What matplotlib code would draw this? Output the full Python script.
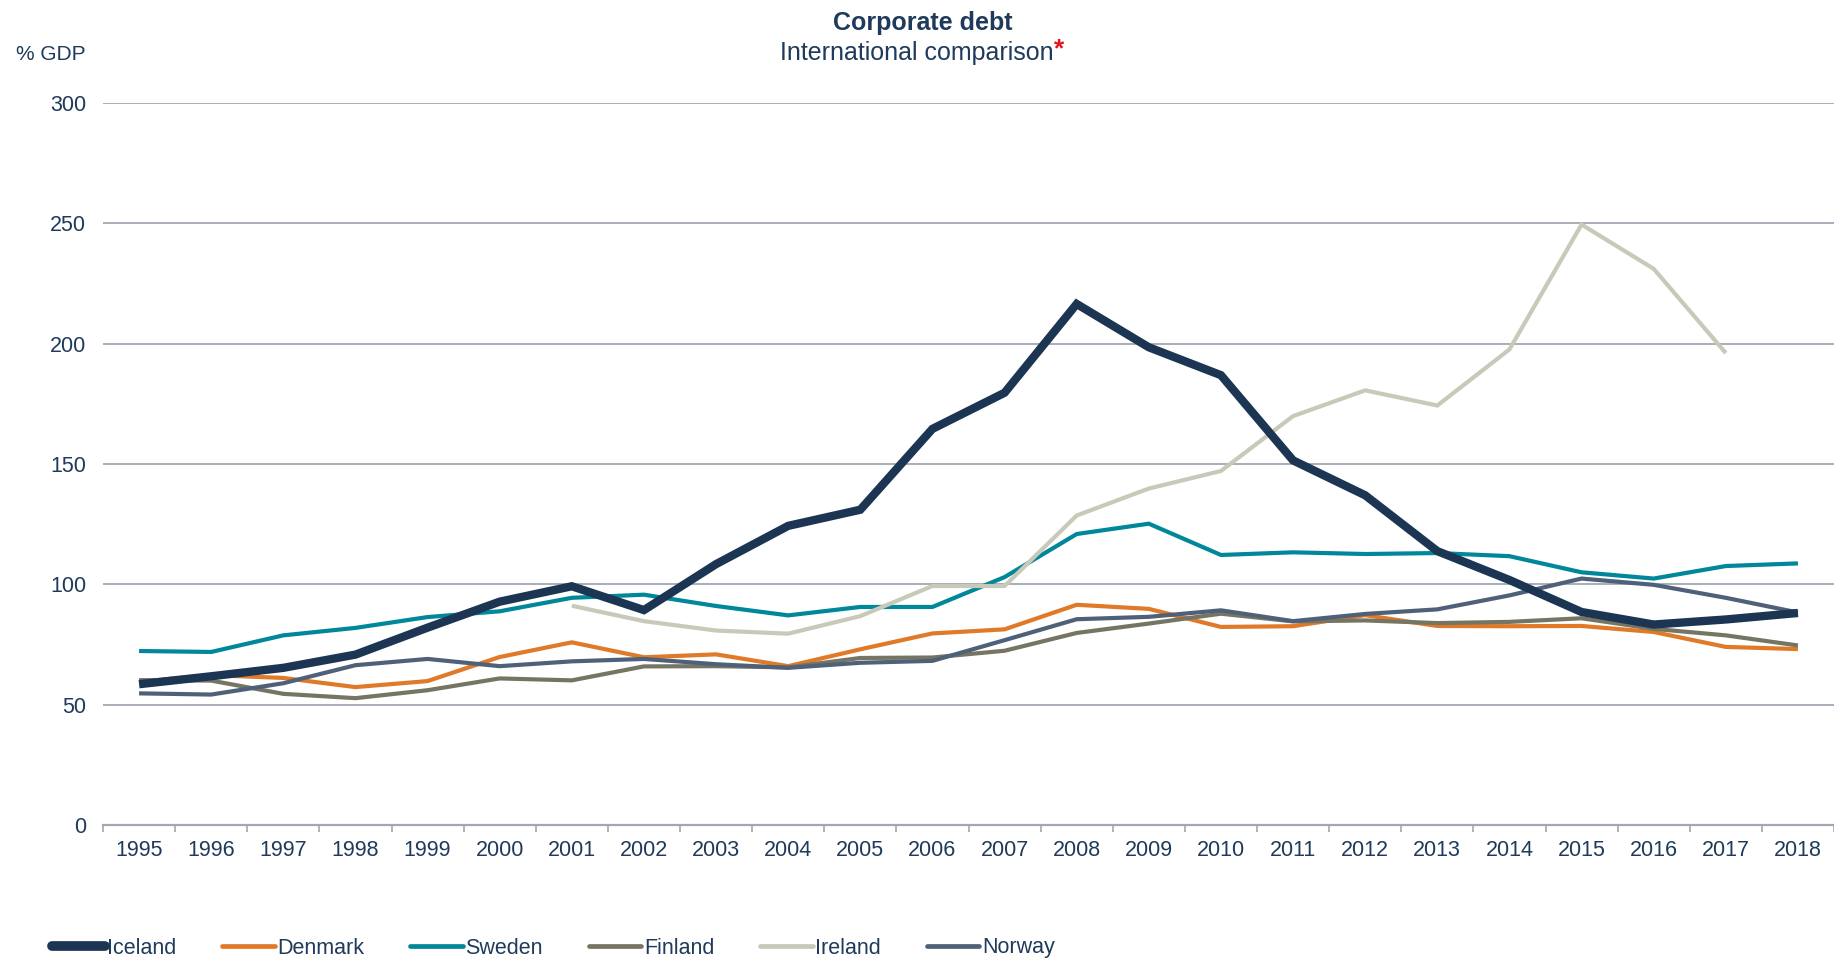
import matplotlib
matplotlib.use("Agg")
import matplotlib.pyplot as plt
import numpy as np
from matplotlib.ticker import FixedLocator
from matplotlib.lines import Line2D

plt.rcParams['font.family'] = ['Liberation Sans', 'DejaVu Sans']

years = [str(y) for y in range(1995, 2019)]

iceland = [58.5, 61.8, 65.3, 70.8, 82.0, 92.8, 99.2, 89.3, 108.4, 124.3, 131.0, 164.6, 179.6,
           216.5, 198.5, 186.9, 151.5, 137.0, 113.8, 101.8, 88.5, 83.3, 85.4, 88.1]
denmark = [59.5, 62.3, 61.1, 57.3, 59.8, 69.8, 75.9, 69.7, 70.9, 66.0, 73.0, 79.6, 81.3,
           91.5, 89.8, 82.3, 82.6, 87.2, 82.7, 82.6, 82.7, 80.2, 74.0, 73.1]
sweden = [72.3, 71.9, 78.8, 81.9, 86.4, 88.8, 94.4, 95.7, 91.0, 87.1, 90.6, 90.6, 103.0,
          120.9, 125.2, 112.2, 113.3, 112.6, 113.0, 111.7, 105.0, 102.4, 107.6, 108.7]
finland = [60.2, 60.0, 54.5, 52.7, 56.0, 60.9, 60.1, 65.9, 66.0, 65.5, 69.4, 69.6, 72.4,
           79.8, 83.7, 87.8, 84.6, 85.0, 83.9, 84.4, 85.9, 81.5, 78.8, 74.6]
ireland = [None, None, None, None, None, None, 91.1, 84.7, 80.8, 79.5, 86.8, 99.3, 99.3,
           128.6, 139.8, 147.1, 169.9, 180.6, 174.3, 197.6, 249.5, 231.1, 196.1, None]
norway = [54.7, 54.2, 58.9, 66.4, 69.0, 66.0, 68.0, 69.0, 66.8, 65.3, 67.4, 68.2, 76.8,
          85.5, 86.5, 89.2, 84.7, 87.7, 89.6, 95.4, 102.4, 99.8, 94.4, 88.3]

series = [
    ("Iceland", iceland, "#1b3553", 6.0, 10),
    ("Denmark", denmark, "#e07a28", 3.0, 3),
    ("Sweden", sweden, "#00879a", 3.0, 2),
    ("Finland", finland, "#767563", 3.0, 4),
    ("Ireland", ireland, "#c9c9b9", 3.0, 5),
    ("Norway", norway, "#4f6178", 3.0, 6),
]

text_color = "#1f3a5a"
grid_color = "#a3a7b3"
fs = 15.5

fig = plt.figure(figsize=(18.34, 9.6), dpi=100)
ax = fig.add_axes([103 / 1834, 1 - 825 / 960, 1 - 103 / 1834, (825 - 103) / 960])

x = np.arange(len(years))
for name, vals, color, lw, z in series:
    v = np.array([np.nan if a is None else a for a in vals], dtype=float)
    ax.plot(x, v, color=color, lw=lw, zorder=z, solid_joinstyle='miter',
            solid_capstyle='butt', label=name)

ax.set_xlim(-0.5, len(years) - 0.5)
ax.set_ylim(0, 300)
ax.set_yticks([0, 50, 100, 150, 200, 250, 300])
ax.set_xticks(x)
ax.set_xticklabels(years)
ax.xaxis.set_minor_locator(FixedLocator(np.arange(-0.5, len(years), 1.0)))

for y in [50, 100, 150, 200, 250, 300]:
    ax.axhline(y, color=grid_color, lw=1.3, zorder=0)

for s in ['top', 'right', 'left']:
    ax.spines[s].set_visible(False)
ax.spines['bottom'].set_color(grid_color)
ax.spines['bottom'].set_linewidth(1.6)

ax.tick_params(axis='y', length=0, pad=12, labelsize=fs, labelcolor=text_color)
ax.tick_params(axis='x', which='major', length=0, pad=11, labelsize=fs, labelcolor=text_color)
ax.tick_params(axis='x', which='minor', length=5, width=1.2, color=grid_color, direction='out')

fig.text(16 / 1834, 1 - 55 / 960, "% GDP", ha='left', va='center', fontsize=15, color=text_color)

fig.text(0.503, 1 - 23 / 960, "Corporate debt", ha='center', va='center', fontsize=18,
         fontweight='bold', color=text_color)
sub = fig.text(0.5, 1 - 53 / 960, "International comparison", ha='center', va='center',
               fontsize=18, color=text_color)
fig.canvas.draw()
bb = sub.get_window_extent(renderer=fig.canvas.get_renderer())
fig.text(bb.x1 / fig.bbox.width + 0.0003, 1 - 49 / 960, "*", ha='left', va='center',
         fontsize=19, fontweight='bold', color="#e8141b")

leg_handles = [Line2D([0], [0], color=c, lw=(7.0 if n == "Iceland" else 3.4),
                      solid_capstyle='round') for n, _, c, _, _ in series]
leg = fig.legend(leg_handles, [s[0] for s in series], loc='center left',
                 bbox_to_anchor=(52 / 1834, 12 / 960), ncol=6, frameon=False,
                 fontsize=fs, handlelength=2.45, handletextpad=0.12, columnspacing=2.12,
                 borderpad=0, borderaxespad=0)
for t in leg.get_texts():
    t.set_color(text_color)

fig.savefig("out.png", dpi=100)
